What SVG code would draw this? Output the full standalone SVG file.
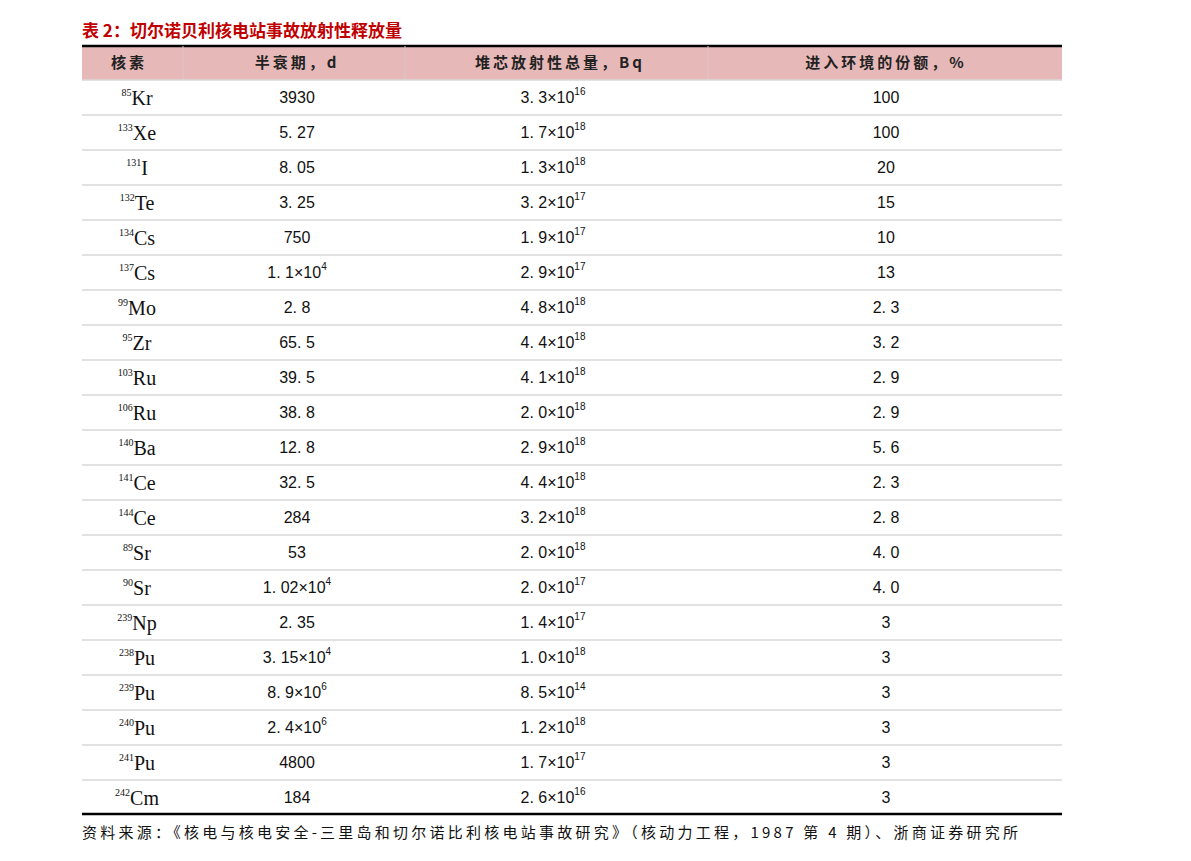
<svg xmlns="http://www.w3.org/2000/svg" width="1191" height="861" viewBox="0 0 1191 861">
<style>
.t{font-family:"Liberation Sans","Noto Sans CJK SC",sans-serif;font-size:16px;fill:#111;text-anchor:middle}
.h{font-family:"Noto Sans CJK SC",sans-serif;font-size:15px;font-weight:bold;fill:#222;text-anchor:middle;letter-spacing:3px}
.n{font-family:"Liberation Serif",serif;font-size:20px;fill:#111;text-anchor:middle}
.s{font-size:10px}
.sep{stroke:#d9d9d9;stroke-width:1.5}
</style>
<rect width="1191" height="861" fill="#fff"/>
<text x="82" y="37" font-family="Noto Sans CJK SC,sans-serif" font-size="17" font-weight="bold" fill="#c00000">表 2：切尔诺贝利核电站事故放射性释放量</text>
<rect x="82" y="46" width="980" height="34" fill="#e6b8b8"/>
<line x1="82" y1="46" x2="1062" y2="46" stroke="#000" stroke-width="2.5"/>
<g stroke="#ddc6c6" stroke-width="1"><line x1="183" y1="46" x2="183" y2="80"/><line x1="405" y1="46" x2="405" y2="80"/><line x1="708" y1="46" x2="708" y2="80"/></g>
<g id="header">
<text class="h" x="129" y="68">核素</text><text class="h" x="297" y="68">半衰期，d</text><text class="h" x="560" y="68">堆芯放射性总量，Bq</text><text class="h" x="886" y="68">进入环境的份额，%</text>
</g>
<g id="separators">
<line class="sep" x1="82" y1="80" x2="1062" y2="80"/>
<line class="sep" x1="82" y1="115" x2="1062" y2="115"/><line class="sep" x1="82" y1="150" x2="1062" y2="150"/><line class="sep" x1="82" y1="185" x2="1062" y2="185"/><line class="sep" x1="82" y1="220" x2="1062" y2="220"/><line class="sep" x1="82" y1="255" x2="1062" y2="255"/><line class="sep" x1="82" y1="290" x2="1062" y2="290"/><line class="sep" x1="82" y1="325" x2="1062" y2="325"/><line class="sep" x1="82" y1="360" x2="1062" y2="360"/><line class="sep" x1="82" y1="395" x2="1062" y2="395"/><line class="sep" x1="82" y1="430" x2="1062" y2="430"/><line class="sep" x1="82" y1="465" x2="1062" y2="465"/><line class="sep" x1="82" y1="500" x2="1062" y2="500"/><line class="sep" x1="82" y1="535" x2="1062" y2="535"/><line class="sep" x1="82" y1="570" x2="1062" y2="570"/><line class="sep" x1="82" y1="605" x2="1062" y2="605"/><line class="sep" x1="82" y1="640" x2="1062" y2="640"/><line class="sep" x1="82" y1="675" x2="1062" y2="675"/><line class="sep" x1="82" y1="710" x2="1062" y2="710"/><line class="sep" x1="82" y1="745" x2="1062" y2="745"/><line class="sep" x1="82" y1="780" x2="1062" y2="780"/>
<line x1="82" y1="814" x2="1062" y2="814" stroke="#000" stroke-width="2.5"/>
</g>
<g id="rows">
<text class="n" x="137" y="105"><tspan class="s" dy="-9">85</tspan><tspan dy="9">Kr</tspan></text><text class="t" x="297" y="103">3930</text><text class="t" x="553" y="103">3. 3×10<tspan class="s" dy="-8">16</tspan></text><text class="t" x="886" y="103">100</text>
<text class="n" x="137" y="140"><tspan class="s" dy="-9">133</tspan><tspan dy="9">Xe</tspan></text><text class="t" x="297" y="138">5. 27</text><text class="t" x="553" y="138">1. 7×10<tspan class="s" dy="-8">18</tspan></text><text class="t" x="886" y="138">100</text>
<text class="n" x="137" y="175"><tspan class="s" dy="-9">131</tspan><tspan dy="9">I</tspan></text><text class="t" x="297" y="173">8. 05</text><text class="t" x="553" y="173">1. 3×10<tspan class="s" dy="-8">18</tspan></text><text class="t" x="886" y="173">20</text>
<text class="n" x="137" y="210"><tspan class="s" dy="-9">132</tspan><tspan dy="9">Te</tspan></text><text class="t" x="297" y="208">3. 25</text><text class="t" x="553" y="208">3. 2×10<tspan class="s" dy="-8">17</tspan></text><text class="t" x="886" y="208">15</text>
<text class="n" x="137" y="245"><tspan class="s" dy="-9">134</tspan><tspan dy="9">Cs</tspan></text><text class="t" x="297" y="243">750</text><text class="t" x="553" y="243">1. 9×10<tspan class="s" dy="-8">17</tspan></text><text class="t" x="886" y="243">10</text>
<text class="n" x="137" y="280"><tspan class="s" dy="-9">137</tspan><tspan dy="9">Cs</tspan></text><text class="t" x="297" y="278">1. 1×10<tspan class="s" dy="-8">4</tspan></text><text class="t" x="553" y="278">2. 9×10<tspan class="s" dy="-8">17</tspan></text><text class="t" x="886" y="278">13</text>
<text class="n" x="137" y="315"><tspan class="s" dy="-9">99</tspan><tspan dy="9">Mo</tspan></text><text class="t" x="297" y="313">2. 8</text><text class="t" x="553" y="313">4. 8×10<tspan class="s" dy="-8">18</tspan></text><text class="t" x="886" y="313">2. 3</text>
<text class="n" x="137" y="350"><tspan class="s" dy="-9">95</tspan><tspan dy="9">Zr</tspan></text><text class="t" x="297" y="348">65. 5</text><text class="t" x="553" y="348">4. 4×10<tspan class="s" dy="-8">18</tspan></text><text class="t" x="886" y="348">3. 2</text>
<text class="n" x="137" y="385"><tspan class="s" dy="-9">103</tspan><tspan dy="9">Ru</tspan></text><text class="t" x="297" y="383">39. 5</text><text class="t" x="553" y="383">4. 1×10<tspan class="s" dy="-8">18</tspan></text><text class="t" x="886" y="383">2. 9</text>
<text class="n" x="137" y="420"><tspan class="s" dy="-9">106</tspan><tspan dy="9">Ru</tspan></text><text class="t" x="297" y="418">38. 8</text><text class="t" x="553" y="418">2. 0×10<tspan class="s" dy="-8">18</tspan></text><text class="t" x="886" y="418">2. 9</text>
<text class="n" x="137" y="455"><tspan class="s" dy="-9">140</tspan><tspan dy="9">Ba</tspan></text><text class="t" x="297" y="453">12. 8</text><text class="t" x="553" y="453">2. 9×10<tspan class="s" dy="-8">18</tspan></text><text class="t" x="886" y="453">5. 6</text>
<text class="n" x="137" y="490"><tspan class="s" dy="-9">141</tspan><tspan dy="9">Ce</tspan></text><text class="t" x="297" y="488">32. 5</text><text class="t" x="553" y="488">4. 4×10<tspan class="s" dy="-8">18</tspan></text><text class="t" x="886" y="488">2. 3</text>
<text class="n" x="137" y="525"><tspan class="s" dy="-9">144</tspan><tspan dy="9">Ce</tspan></text><text class="t" x="297" y="523">284</text><text class="t" x="553" y="523">3. 2×10<tspan class="s" dy="-8">18</tspan></text><text class="t" x="886" y="523">2. 8</text>
<text class="n" x="137" y="560"><tspan class="s" dy="-9">89</tspan><tspan dy="9">Sr</tspan></text><text class="t" x="297" y="558">53</text><text class="t" x="553" y="558">2. 0×10<tspan class="s" dy="-8">18</tspan></text><text class="t" x="886" y="558">4. 0</text>
<text class="n" x="137" y="595"><tspan class="s" dy="-9">90</tspan><tspan dy="9">Sr</tspan></text><text class="t" x="297" y="593">1. 02×10<tspan class="s" dy="-8">4</tspan></text><text class="t" x="553" y="593">2. 0×10<tspan class="s" dy="-8">17</tspan></text><text class="t" x="886" y="593">4. 0</text>
<text class="n" x="137" y="630"><tspan class="s" dy="-9">239</tspan><tspan dy="9">Np</tspan></text><text class="t" x="297" y="628">2. 35</text><text class="t" x="553" y="628">1. 4×10<tspan class="s" dy="-8">17</tspan></text><text class="t" x="886" y="628">3</text>
<text class="n" x="137" y="665"><tspan class="s" dy="-9">238</tspan><tspan dy="9">Pu</tspan></text><text class="t" x="297" y="663">3. 15×10<tspan class="s" dy="-8">4</tspan></text><text class="t" x="553" y="663">1. 0×10<tspan class="s" dy="-8">18</tspan></text><text class="t" x="886" y="663">3</text>
<text class="n" x="137" y="700"><tspan class="s" dy="-9">239</tspan><tspan dy="9">Pu</tspan></text><text class="t" x="297" y="698">8. 9×10<tspan class="s" dy="-8">6</tspan></text><text class="t" x="553" y="698">8. 5×10<tspan class="s" dy="-8">14</tspan></text><text class="t" x="886" y="698">3</text>
<text class="n" x="137" y="735"><tspan class="s" dy="-9">240</tspan><tspan dy="9">Pu</tspan></text><text class="t" x="297" y="733">2. 4×10<tspan class="s" dy="-8">6</tspan></text><text class="t" x="553" y="733">1. 2×10<tspan class="s" dy="-8">18</tspan></text><text class="t" x="886" y="733">3</text>
<text class="n" x="137" y="770"><tspan class="s" dy="-9">241</tspan><tspan dy="9">Pu</tspan></text><text class="t" x="297" y="768">4800</text><text class="t" x="553" y="768">1. 7×10<tspan class="s" dy="-8">17</tspan></text><text class="t" x="886" y="768">3</text>
<text class="n" x="137" y="805"><tspan class="s" dy="-9">242</tspan><tspan dy="9">Cm</tspan></text><text class="t" x="297" y="803">184</text><text class="t" x="553" y="803">2. 6×10<tspan class="s" dy="-8">16</tspan></text><text class="t" x="886" y="803">3</text>
</g>
<text x="82" y="838" font-family="Noto Sans CJK SC,sans-serif" font-size="15" fill="#111" textLength="936" lengthAdjust="spacing">资料来源：《核电与核电安全-三里岛和切尔诺比利核电站事故研究》（核动力工程，1987 第 4 期）、浙商证券研究所</text>
</svg>
